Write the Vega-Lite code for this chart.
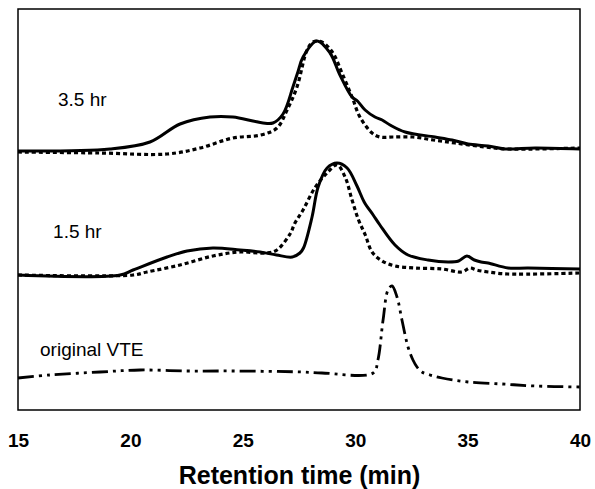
{
  "$schema": "https://vega.github.io/schema/vega-lite/v6.json",
  "width": 562,
  "height": 401,
  "autosize": {"type": "none"},
  "padding": {"left": 18, "top": 9, "right": 15, "bottom": 79},
  "background": "white",
  "config": {
    "view": {"stroke": "black", "strokeWidth": 1.5},
    "font": "Liberation Sans"
  },
  "datasets": {
    "curves": [
      {"s": "3.5 hr solid", "style": "solid", "t": 15, "h": 259},
      {"s": "3.5 hr solid", "style": "solid", "t": 19.09, "h": 261},
      {"s": "3.5 hr solid", "style": "solid", "t": 20.87, "h": 268},
      {"s": "3.5 hr solid", "style": "solid", "t": 22.21, "h": 286},
      {"s": "3.5 hr solid", "style": "solid", "t": 23.54, "h": 293},
      {"s": "3.5 hr solid", "style": "solid", "t": 24.56, "h": 293},
      {"s": "3.5 hr solid", "style": "solid", "t": 25.45, "h": 289},
      {"s": "3.5 hr solid", "style": "solid", "t": 25.9, "h": 287},
      {"s": "3.5 hr solid", "style": "solid", "t": 26.34, "h": 287},
      {"s": "3.5 hr solid", "style": "solid", "t": 26.79, "h": 296},
      {"s": "3.5 hr solid", "style": "solid", "t": 27.23, "h": 323},
      {"s": "3.5 hr solid", "style": "solid", "t": 27.45, "h": 338},
      {"s": "3.5 hr solid", "style": "solid", "t": 27.68, "h": 353},
      {"s": "3.5 hr solid", "style": "solid", "t": 28.3, "h": 369},
      {"s": "3.5 hr solid", "style": "solid", "t": 28.88, "h": 357},
      {"s": "3.5 hr solid", "style": "solid", "t": 29.3, "h": 336},
      {"s": "3.5 hr solid", "style": "solid", "t": 29.86, "h": 313},
      {"s": "3.5 hr solid", "style": "solid", "t": 30.1, "h": 309},
      {"s": "3.5 hr solid", "style": "solid", "t": 30.44, "h": 300},
      {"s": "3.5 hr solid", "style": "solid", "t": 30.88, "h": 293},
      {"s": "3.5 hr solid", "style": "solid", "t": 31.2, "h": 290},
      {"s": "3.5 hr solid", "style": "solid", "t": 31.55, "h": 285},
      {"s": "3.5 hr solid", "style": "solid", "t": 32.22, "h": 278},
      {"s": "3.5 hr solid", "style": "solid", "t": 33.55, "h": 273},
      {"s": "3.5 hr solid", "style": "solid", "t": 34.31, "h": 270},
      {"s": "3.5 hr solid", "style": "solid", "t": 35.02, "h": 266},
      {"s": "3.5 hr solid", "style": "solid", "t": 35.91, "h": 264},
      {"s": "3.5 hr solid", "style": "solid", "t": 36.66, "h": 261},
      {"s": "3.5 hr solid", "style": "solid", "t": 38, "h": 262},
      {"s": "3.5 hr solid", "style": "solid", "t": 40, "h": 261},

      {"s": "3.5 hr dotted", "style": "dotted", "t": 15, "h": 258},
      {"s": "3.5 hr dotted", "style": "dotted", "t": 18.65, "h": 257},
      {"s": "3.5 hr dotted", "style": "dotted", "t": 21.63, "h": 256},
      {"s": "3.5 hr dotted", "style": "dotted", "t": 23.1, "h": 262},
      {"s": "3.5 hr dotted", "style": "dotted", "t": 24.56, "h": 272},
      {"s": "3.5 hr dotted", "style": "dotted", "t": 25.8, "h": 275},
      {"s": "3.5 hr dotted", "style": "dotted", "t": 26.52, "h": 282},
      {"s": "3.5 hr dotted", "style": "dotted", "t": 26.97, "h": 300},
      {"s": "3.5 hr dotted", "style": "dotted", "t": 27.41, "h": 323},
      {"s": "3.5 hr dotted", "style": "dotted", "t": 27.86, "h": 360},
      {"s": "3.5 hr dotted", "style": "dotted", "t": 28.12, "h": 368},
      {"s": "3.5 hr dotted", "style": "dotted", "t": 28.52, "h": 368},
      {"s": "3.5 hr dotted", "style": "dotted", "t": 29.01, "h": 357},
      {"s": "3.5 hr dotted", "style": "dotted", "t": 29.41, "h": 337},
      {"s": "3.5 hr dotted", "style": "dotted", "t": 29.86, "h": 313},
      {"s": "3.5 hr dotted", "style": "dotted", "t": 30.21, "h": 293},
      {"s": "3.5 hr dotted", "style": "dotted", "t": 30.75, "h": 277},
      {"s": "3.5 hr dotted", "style": "dotted", "t": 31.1, "h": 273},
      {"s": "3.5 hr dotted", "style": "dotted", "t": 31.68, "h": 273},
      {"s": "3.5 hr dotted", "style": "dotted", "t": 32.57, "h": 273},
      {"s": "3.5 hr dotted", "style": "dotted", "t": 33.47, "h": 270},
      {"s": "3.5 hr dotted", "style": "dotted", "t": 34.44, "h": 267},
      {"s": "3.5 hr dotted", "style": "dotted", "t": 35.77, "h": 263},
      {"s": "3.5 hr dotted", "style": "dotted", "t": 36.8, "h": 261},
      {"s": "3.5 hr dotted", "style": "dotted", "t": 40, "h": 262},

      {"s": "1.5 hr solid", "style": "solid", "t": 15, "h": 135},
      {"s": "1.5 hr solid", "style": "solid", "t": 19.54, "h": 135},
      {"s": "1.5 hr solid", "style": "solid", "t": 20.12, "h": 140},
      {"s": "1.5 hr solid", "style": "solid", "t": 21.63, "h": 153},
      {"s": "1.5 hr solid", "style": "solid", "t": 22.52, "h": 159},
      {"s": "1.5 hr solid", "style": "solid", "t": 23.67, "h": 162},
      {"s": "1.5 hr solid", "style": "solid", "t": 24.88, "h": 160},
      {"s": "1.5 hr solid", "style": "solid", "t": 25.77, "h": 158},
      {"s": "1.5 hr solid", "style": "solid", "t": 26.5, "h": 155},
      {"s": "1.5 hr solid", "style": "solid", "t": 27.2, "h": 153},
      {"s": "1.5 hr solid", "style": "solid", "t": 27.54, "h": 157},
      {"s": "1.5 hr solid", "style": "solid", "t": 27.7, "h": 162},
      {"s": "1.5 hr solid", "style": "solid", "t": 28.08, "h": 193},
      {"s": "1.5 hr solid", "style": "solid", "t": 28.35, "h": 223},
      {"s": "1.5 hr solid", "style": "solid", "t": 28.75, "h": 242},
      {"s": "1.5 hr solid", "style": "solid", "t": 29.19, "h": 247},
      {"s": "1.5 hr solid", "style": "solid", "t": 29.64, "h": 242},
      {"s": "1.5 hr solid", "style": "solid", "t": 30.08, "h": 224},
      {"s": "1.5 hr solid", "style": "solid", "t": 30.4, "h": 208},
      {"s": "1.5 hr solid", "style": "solid", "t": 30.8, "h": 195},
      {"s": "1.5 hr solid", "style": "solid", "t": 31.1, "h": 185},
      {"s": "1.5 hr solid", "style": "solid", "t": 31.77, "h": 165},
      {"s": "1.5 hr solid", "style": "solid", "t": 32.35, "h": 155},
      {"s": "1.5 hr solid", "style": "solid", "t": 33.24, "h": 150},
      {"s": "1.5 hr solid", "style": "solid", "t": 34.13, "h": 148},
      {"s": "1.5 hr solid", "style": "solid", "t": 34.6, "h": 149},
      {"s": "1.5 hr solid", "style": "solid", "t": 34.97, "h": 154},
      {"s": "1.5 hr solid", "style": "solid", "t": 35.3, "h": 150},
      {"s": "1.5 hr solid", "style": "solid", "t": 35.6, "h": 148},
      {"s": "1.5 hr solid", "style": "solid", "t": 35.91, "h": 147},
      {"s": "1.5 hr solid", "style": "solid", "t": 36.8, "h": 142},
      {"s": "1.5 hr solid", "style": "solid", "t": 37.69, "h": 142},
      {"s": "1.5 hr solid", "style": "solid", "t": 40, "h": 141},

      {"s": "1.5 hr dotted", "style": "dotted", "t": 15, "h": 135},
      {"s": "1.5 hr dotted", "style": "dotted", "t": 20.12, "h": 135},
      {"s": "1.5 hr dotted", "style": "dotted", "t": 20.74, "h": 138},
      {"s": "1.5 hr dotted", "style": "dotted", "t": 22.21, "h": 145},
      {"s": "1.5 hr dotted", "style": "dotted", "t": 23.67, "h": 154},
      {"s": "1.5 hr dotted", "style": "dotted", "t": 24.88, "h": 158},
      {"s": "1.5 hr dotted", "style": "dotted", "t": 26.08, "h": 157},
      {"s": "1.5 hr dotted", "style": "dotted", "t": 26.52, "h": 160},
      {"s": "1.5 hr dotted", "style": "dotted", "t": 27.1, "h": 176},
      {"s": "1.5 hr dotted", "style": "dotted", "t": 27.32, "h": 187},
      {"s": "1.5 hr dotted", "style": "dotted", "t": 27.68, "h": 200},
      {"s": "1.5 hr dotted", "style": "dotted", "t": 28.2, "h": 222},
      {"s": "1.5 hr dotted", "style": "dotted", "t": 28.75, "h": 237},
      {"s": "1.5 hr dotted", "style": "dotted", "t": 29.19, "h": 245},
      {"s": "1.5 hr dotted", "style": "dotted", "t": 29.55, "h": 233},
      {"s": "1.5 hr dotted", "style": "dotted", "t": 29.86, "h": 210},
      {"s": "1.5 hr dotted", "style": "dotted", "t": 30.15, "h": 190},
      {"s": "1.5 hr dotted", "style": "dotted", "t": 30.45, "h": 175},
      {"s": "1.5 hr dotted", "style": "dotted", "t": 30.75, "h": 158},
      {"s": "1.5 hr dotted", "style": "dotted", "t": 31.2, "h": 149},
      {"s": "1.5 hr dotted", "style": "dotted", "t": 31.77, "h": 144},
      {"s": "1.5 hr dotted", "style": "dotted", "t": 32.66, "h": 142},
      {"s": "1.5 hr dotted", "style": "dotted", "t": 33.86, "h": 141},
      {"s": "1.5 hr dotted", "style": "dotted", "t": 34.75, "h": 138},
      {"s": "1.5 hr dotted", "style": "dotted", "t": 35.1, "h": 142},
      {"s": "1.5 hr dotted", "style": "dotted", "t": 35.4, "h": 140},
      {"s": "1.5 hr dotted", "style": "dotted", "t": 35.91, "h": 138},
      {"s": "1.5 hr dotted", "style": "dotted", "t": 36.8, "h": 136},
      {"s": "1.5 hr dotted", "style": "dotted", "t": 40, "h": 137},

      {"s": "original VTE", "style": "dashdot", "t": 15, "h": 32},
      {"s": "original VTE", "style": "dashdot", "t": 16.42, "h": 35},
      {"s": "original VTE", "style": "dashdot", "t": 18.65, "h": 38},
      {"s": "original VTE", "style": "dashdot", "t": 20.43, "h": 40},
      {"s": "original VTE", "style": "dashdot", "t": 22.52, "h": 39},
      {"s": "original VTE", "style": "dashdot", "t": 24.56, "h": 39},
      {"s": "original VTE", "style": "dashdot", "t": 27.63, "h": 38},
      {"s": "original VTE", "style": "dashdot", "t": 28.52, "h": 37},
      {"s": "original VTE", "style": "dashdot", "t": 30.8, "h": 37},
      {"s": "original VTE", "style": "dashdot", "t": 31.01, "h": 50},
      {"s": "original VTE", "style": "dashdot", "t": 31.24, "h": 90},
      {"s": "original VTE", "style": "dashdot", "t": 31.46, "h": 120},
      {"s": "original VTE", "style": "dashdot", "t": 31.64, "h": 124},
      {"s": "original VTE", "style": "dashdot", "t": 31.86, "h": 113},
      {"s": "original VTE", "style": "dashdot", "t": 32.08, "h": 90},
      {"s": "original VTE", "style": "dashdot", "t": 32.35, "h": 63},
      {"s": "original VTE", "style": "dashdot", "t": 32.57, "h": 50},
      {"s": "original VTE", "style": "dashdot", "t": 32.75, "h": 43},
      {"s": "original VTE", "style": "dashdot", "t": 32.97, "h": 38},
      {"s": "original VTE", "style": "dashdot", "t": 33.33, "h": 35},
      {"s": "original VTE", "style": "dashdot", "t": 33.86, "h": 32},
      {"s": "original VTE", "style": "dashdot", "t": 35.02, "h": 28},
      {"s": "original VTE", "style": "dashdot", "t": 36.53, "h": 26},
      {"s": "original VTE", "style": "dashdot", "t": 38, "h": 24},
      {"s": "original VTE", "style": "dashdot", "t": 40, "h": 23}
    ],
    "labels": [
      {"label": "3.5 hr", "t": 16.78, "h": 310},
      {"label": "1.5 hr", "t": 16.56, "h": 178},
      {"label": "original VTE", "t": 15.98, "h": 60}
    ],
    "minor": [
      {"t": 16}, {"t": 17}, {"t": 18}, {"t": 19},
      {"t": 21}, {"t": 22}, {"t": 23}, {"t": 24},
      {"t": 26}, {"t": 27}, {"t": 28}, {"t": 29},
      {"t": 31}, {"t": 32}, {"t": 33}, {"t": 34},
      {"t": 36}, {"t": 37}, {"t": 38}, {"t": 39}
    ],
    "major": [
      {"t": 20}, {"t": 25}, {"t": 30}, {"t": 35}
    ]
  },
  "encoding": {
    "x": {
      "field": "t",
      "type": "quantitative",
      "scale": {"domain": [15, 40], "nice": false, "zero": false},
      "axis": {
        "values": [15, 20, 25, 30, 35, 40],
        "grid": false,
        "domain": false,
        "ticks": false,
        "labelFont": "Liberation Sans",
        "labelFontWeight": "bold",
        "labelFontSize": 19,
        "labelColor": "black",
        "labelPadding": 21,
        "labelFlush": false,
        "labelOverlap": false,
        "title": "Retention time (min)",
        "titleFont": "Liberation Sans",
        "titleFontWeight": "bold",
        "titleFontSize": 25,
        "titleColor": "black",
        "titlePadding": 13
      }
    },
    "y": {
      "field": "h",
      "type": "quantitative",
      "scale": {"domain": [0, 401], "nice": false, "zero": false},
      "axis": null
    }
  },
  "layer": [
    {
      "data": {"name": "minor"},
      "mark": {"type": "rule", "color": "black", "strokeWidth": 1.2},
      "encoding": {
        "y": {"datum": 0, "type": "quantitative"},
        "y2": {"datum": 4}
      }
    },
    {
      "data": {"name": "major"},
      "mark": {"type": "rule", "color": "black", "strokeWidth": 1.2},
      "encoding": {
        "y": {"datum": 0, "type": "quantitative"},
        "y2": {"datum": 8}
      }
    },
    {
      "data": {"name": "curves"},
      "transform": [{"filter": "datum.style === 'dashdot'"}],
      "mark": {"type": "line", "color": "black", "strokeWidth": 2.8, "interpolate": "catmull-rom", "strokeDash": [16, 5, 3, 5, 3, 5], "strokeCap": "butt"},
      "encoding": {"detail": {"field": "s"}}
    },
    {
      "data": {"name": "curves"},
      "transform": [{"filter": "datum.style === 'dotted'"}],
      "mark": {"type": "line", "color": "black", "strokeWidth": 3.2, "interpolate": "catmull-rom", "strokeDash": [4, 3], "strokeCap": "butt"},
      "encoding": {"detail": {"field": "s"}}
    },
    {
      "data": {"name": "curves"},
      "transform": [{"filter": "datum.style === 'solid'"}],
      "mark": {"type": "line", "color": "black", "strokeWidth": 3, "interpolate": "catmull-rom"},
      "encoding": {"detail": {"field": "s"}}
    },
    {
      "data": {"name": "labels"},
      "mark": {"type": "text", "align": "left", "baseline": "middle", "font": "Liberation Sans", "fontSize": 19, "color": "black"},
      "encoding": {"text": {"field": "label"}}
    }
  ]
}
